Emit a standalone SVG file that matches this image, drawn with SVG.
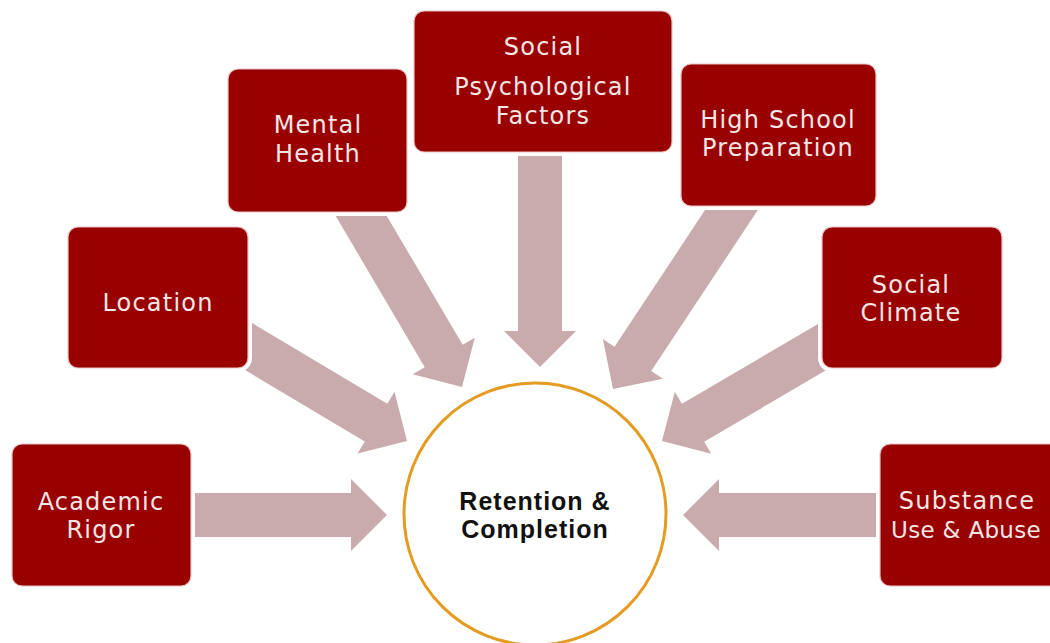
<svg xmlns="http://www.w3.org/2000/svg" width="1050" height="643" viewBox="0 0 1050 643">
<style>
.halo{fill:#ffffff;stroke:#ffffff;stroke-width:8}
.box{fill:#990000;stroke:#e9c4c4;stroke-width:1.2}
.lbl{fill:#f6e6e6;font-family:"DejaVu Sans","Liberation Sans",sans-serif;font-size:24px;letter-spacing:1.2px;text-anchor:middle}
.tight{font-size:23px;letter-spacing:0.3px}
.arrow{fill:#c9abad}
.hub{fill:#ffffff;stroke:#e49b22;stroke-width:3}
.hubtxt{fill:#111111;font-family:"Liberation Sans",Arial,sans-serif;font-weight:bold;font-size:25px;letter-spacing:1px;text-anchor:middle}
</style>
<defs>
<path id="arr" d="M-230,-22 L-36,-22 L-36,-36 L0,0 L-36,36 L-36,22 L-230,22 Z"/>
</defs>
<rect width="1050" height="643" fill="#ffffff"/>
<g id="connectors">
<use href="#arr" class="arrow" transform="translate(387,515)"/>
<use href="#arr" class="arrow" transform="translate(407,441) rotate(30.8)"/>
<use href="#arr" class="arrow" transform="translate(462,387) rotate(59.5)"/>
<use href="#arr" class="arrow" transform="translate(540,367) rotate(90)"/>
<use href="#arr" class="arrow" transform="translate(613,389) rotate(123.5)"/>
<use href="#arr" class="arrow" transform="translate(662,441) rotate(149.6)"/>
<use href="#arr" class="arrow" transform="translate(683,515) rotate(180)"/>
</g>
<g id="academic-rigor">
<rect class="halo" x="12" y="444" width="179" height="142" rx="10"/>
<rect class="box" x="12" y="444" width="179" height="142" rx="10"/>
<text class="lbl" x="101" y="510">Academic</text>
<text class="lbl" x="101" y="538">Rigor</text>
</g>
<g id="location">
<rect class="halo" x="68" y="227" width="180" height="141" rx="10"/>
<rect class="box" x="68" y="227" width="180" height="141" rx="10"/>
<text class="lbl" x="158" y="311">Location</text>
</g>
<g id="mental-health">
<rect class="halo" x="228" y="69" width="179" height="143" rx="10"/>
<rect class="box" x="228" y="69" width="179" height="143" rx="10"/>
<text class="lbl" x="318" y="133">Mental</text>
<text class="lbl" x="318" y="162">Health</text>
</g>
<g id="social-psychological-factors">
<rect class="halo" x="414" y="11" width="258" height="141" rx="10"/>
<rect class="box" x="414" y="11" width="258" height="141" rx="10"/>
<text class="lbl" x="543" y="55">Social</text>
<text class="lbl" x="543" y="95">Psychological</text>
<text class="lbl" x="543" y="124">Factors</text>
</g>
<g id="high-school-preparation">
<rect class="halo" x="681" y="64" width="195" height="142" rx="10"/>
<rect class="box" x="681" y="64" width="195" height="142" rx="10"/>
<text class="lbl" x="778" y="128">High School</text>
<text class="lbl" x="778" y="156">Preparation</text>
</g>
<g id="social-climate">
<rect class="halo" x="822" y="227" width="180" height="141" rx="10"/>
<rect class="box" x="822" y="227" width="180" height="141" rx="10"/>
<text class="lbl" x="911" y="293">Social</text>
<text class="lbl" x="911" y="321">Climate</text>
</g>
<g id="substance-use-abuse">
<rect class="halo" x="880" y="444" width="185" height="142" rx="10"/>
<rect class="box" x="880" y="444" width="185" height="142" rx="10"/>
<text class="lbl" x="967" y="509">Substance</text>
<text class="lbl tight" x="966" y="538">Use &amp; Abuse</text>
</g>
<g id="retention-completion">
<circle class="hub" cx="535" cy="514" r="131"/>
<text class="hubtxt" x="535" y="510">Retention &amp;</text>
<text class="hubtxt" x="535" y="538">Completion</text>
</g>
</svg>
